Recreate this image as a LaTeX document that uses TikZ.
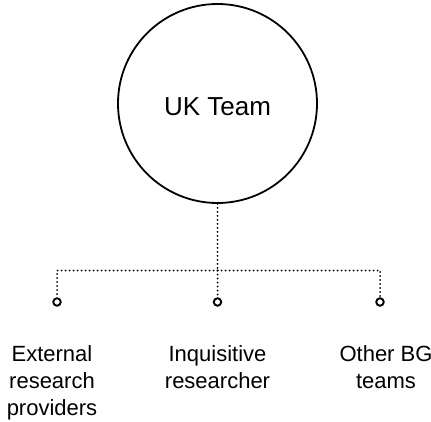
\documentclass[tikz,border=0pt]{standalone}
\usepackage{fontspec}
\setmainfont{Liberation Sans}
\usetikzlibrary{positioning,calc}
\tikzset{teamcircle/.style={draw,circle,line width=1.8pt,minimum size=199pt,inner sep=0pt,text height=23.5pt,text depth=0pt,font=\fontsize{26}{30}\selectfont}}
\tikzset{enddot/.style={draw,circle,line width=1.9pt,minimum size=7.5pt,inner sep=0pt}}
\tikzset{link/.style={line width=2pt,line cap=round,dash pattern=on 0pt off 4pt}}
\tikzset{grouplabel/.style={align=center,anchor=north,inner sep=0pt,font=\fontsize{22}{27}\selectfont}}

\begin{document}
\begin{tikzpicture}[x=1pt,y=1pt]
	\useasboundingbox (0,0) rectangle (431,421);
	\node[teamcircle] (team) at (217.5,317.5) {UK Team};
	\coordinate (hub) at (217.5,150.5);
	\node[enddot] (extdot) at (57,119) {};
	\node[enddot] (inqdot) at (217.5,119) {};
	\node[enddot] (othdot) at (380,119) {};
	\node[grouplabel] (ext) at (52,76) {External\\research\\providers};
	\node[grouplabel] (inq) at (217.5,76) {Inquisitive\\researcher};
	\node[grouplabel] (oth) at (386,76) {Other BG\\teams};
	\draw[link] (team.south) -- (hub);
	\draw[link] (hub) -- (inqdot.north);
	\draw[link] (hub) -| (extdot.north);
	\draw[link] (hub) -| (othdot.north);
\end{tikzpicture}
\end{document}
